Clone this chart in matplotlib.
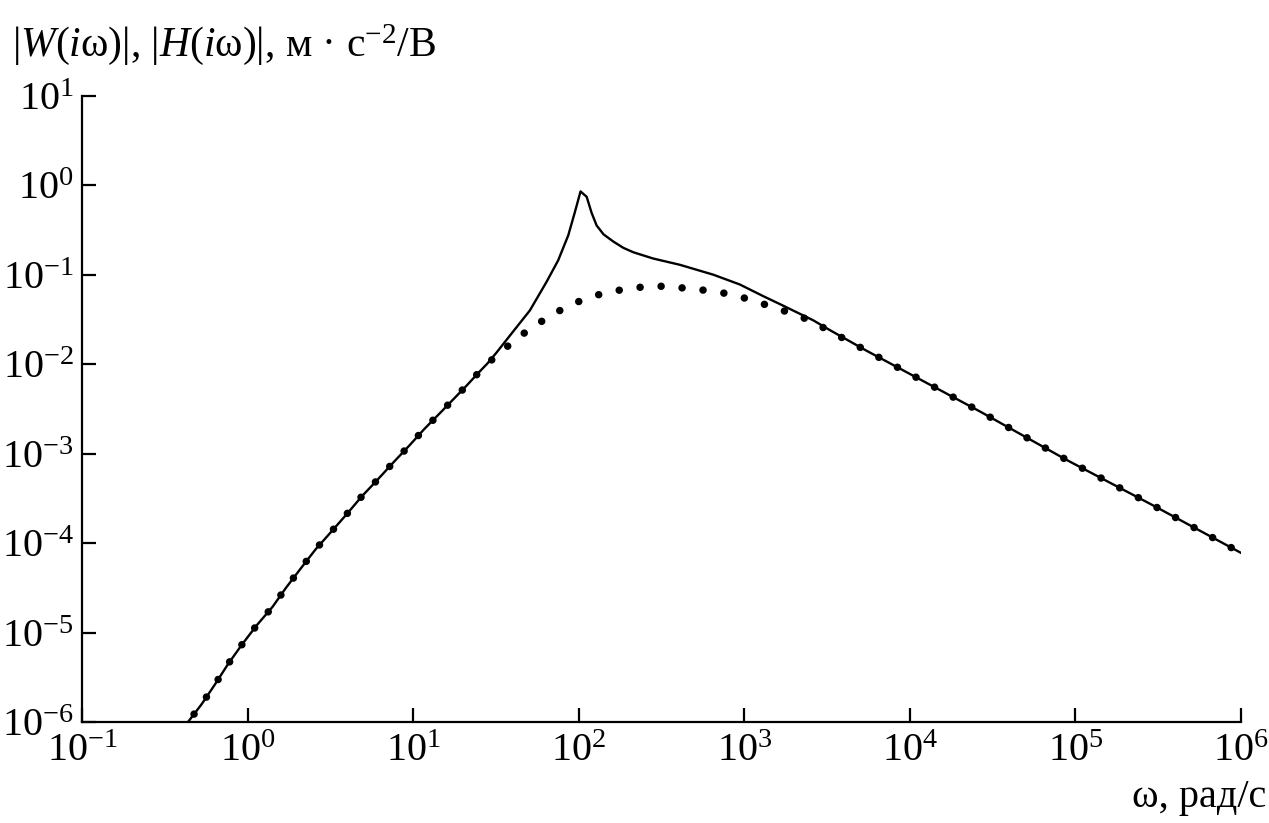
import numpy as np
import matplotlib
matplotlib.use('Agg')
import matplotlib.pyplot as plt
from matplotlib.ticker import LogLocator, NullLocator

plt.rcParams['font.family'] = ['Liberation Serif', 'DejaVu Serif']
plt.rcParams['mathtext.fontset'] = 'custom'
plt.rcParams['mathtext.rm'] = 'Liberation Serif'
plt.rcParams['mathtext.it'] = 'Liberation Serif:italic'
plt.rcParams['mathtext.bf'] = 'Liberation Serif:bold'

# |W(iw)| - сплошная линия (lg w, lg |W|)
w_lgx = [-0.40, -0.368, -0.277, -0.197, -0.117, -0.032, 0.055, 0.152, 0.232, 0.327,
         0.411, 0.512, 0.602, 0.689, 0.786, 0.880, 0.977, 1.065, 1.166, 1.323,
         1.393, 1.45, 1.504, 1.585, 1.705, 1.806, 1.876, 1.937, 1.977, 2.011,
         2.048, 2.078, 2.108, 2.15, 2.209, 2.269, 2.330, 2.450, 2.611, 2.812,
         2.973, 3.114, 3.216, 3.416, 3.517, 3.738, 3.960, 4.424, 4.946, 5.470, 6.0]
w_lgy = [-6.10, -6.02, -5.80, -5.58, -5.35, -5.13, -4.92, -4.71, -4.50, -4.27,
         -4.07, -3.86, -3.67, -3.48, -3.29, -3.10, -2.91, -2.73, -2.54, -2.24,
         -2.10, -1.99, -1.87, -1.68, -1.40, -1.08, -0.84, -0.56, -0.30, -0.07,
         -0.13, -0.31, -0.45, -0.55, -0.63, -0.70, -0.75, -0.82, -0.89, -1.00,
         -1.11, -1.24, -1.33, -1.51, -1.62, -1.85, -2.07, -2.53, -3.07, -3.58, -4.11]

# |H(iw)| - точки
h_lgx = [-0.40, -0.368, -0.277, -0.197, -0.117, -0.032, 0.055, 0.152, 0.232, 0.327,
         0.411, 0.512, 0.602, 0.689, 0.786, 0.880, 0.977, 1.065, 1.166, 1.323,
         1.393, 1.504, 1.604, 1.715, 1.832, 1.933, 2.042, 2.162, 2.289, 2.420,
         2.551, 2.673, 2.796, 2.917, 3.038, 3.167, 3.280, 3.396, 3.505, 3.738,
         3.960, 4.424, 4.946, 5.470, 6.0]
h_lgy = [-6.10, -6.02, -5.80, -5.58, -5.35, -5.13, -4.92, -4.71, -4.50, -4.27,
         -4.07, -3.86, -3.67, -3.48, -3.29, -3.10, -2.91, -2.73, -2.54, -2.24,
         -2.10, -1.90, -1.75, -1.59, -1.46, -1.35, -1.27, -1.20, -1.16, -1.13,
         -1.13, -1.16, -1.18, -1.22, -1.28, -1.36, -1.43, -1.51, -1.62, -1.85,
         -2.07, -2.53, -3.07, -3.58, -4.11]

w_x = 10.0 ** np.array(w_lgx)
w_y = 10.0 ** np.array(w_lgy)
h_x = 10.0 ** np.array(h_lgx)
h_y = 10.0 ** np.array(h_lgy)

fig = plt.figure(figsize=(12.69, 8.23), dpi=100)
ax = fig.add_axes([82 / 1269, 1 - 722 / 823, (1241 - 82) / 1269, (722 - 95.7) / 823])

ax.plot(h_x, h_y, color='black', lw=5.4, linestyle=(0, (0.01, 2.8)),
        dash_capstyle='round')
ax.plot(w_x, w_y, color='black', lw=1.7)

ax.set_xscale('log')
ax.set_yscale('log')
ax.set_xlim(1e-1, 1e6)
ax.set_ylim(1e-6, 1e1)
ax.xaxis.set_major_locator(LogLocator(base=10, numticks=20))
ax.yaxis.set_major_locator(LogLocator(base=10, numticks=20))
ax.xaxis.set_minor_locator(NullLocator())
ax.yaxis.set_minor_locator(NullLocator())

for s in ['top', 'right']:
    ax.spines[s].set_visible(False)
for s in ['left', 'bottom']:
    ax.spines[s].set_linewidth(1.6)

ax.tick_params(axis='both', which='major', direction='in', length=10, width=1.6,
               labelsize=29)
ax.tick_params(axis='x', pad=8)
ax.tick_params(axis='y', pad=6)

fig.text(12 / 1269, 1 - 45 / 823,
         '|$W$($i$ω)|, |$H$($i$ω)|, м · с$^{\\mathregular{-2}}$/В',
         fontsize=30, ha='left', va='center')
fig.text(1266 / 1269, 1 - 797 / 823, 'ω, рад/с',
         fontsize=29, ha='right', va='center')

fig.savefig('out.png', dpi=100)
